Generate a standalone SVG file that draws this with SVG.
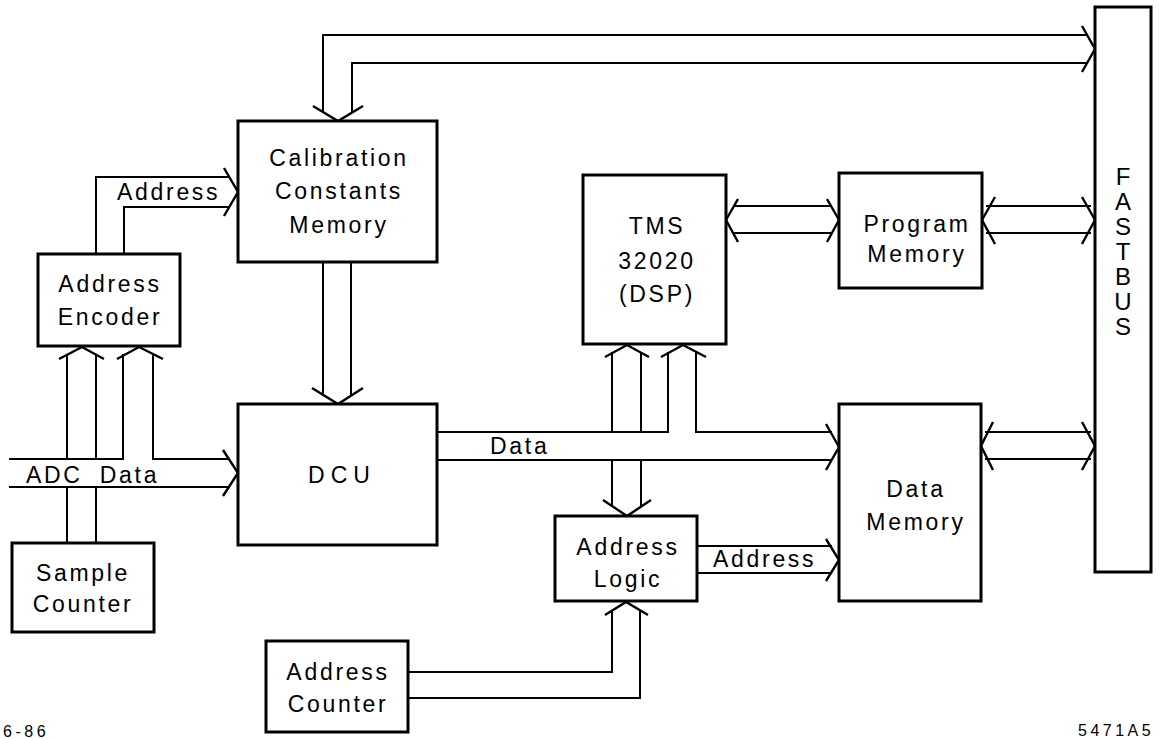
<svg xmlns="http://www.w3.org/2000/svg" width="1159" height="739" viewBox="0 0 1159 739">
<style>
.box{fill:#fff;stroke:#000;stroke-width:3}
.ln{fill:none;stroke:#000;stroke-width:2;stroke-linecap:square}
.hd{fill:none;stroke:#000;stroke-width:2.4;stroke-linejoin:miter}
text{font-family:"Liberation Sans",Arial,sans-serif;font-size:23px;fill:#000;letter-spacing:2.7px}
.c{text-anchor:middle}
.sm{font-size:16px;letter-spacing:3.5px}
.fb{font-size:24px;text-anchor:middle;letter-spacing:0}
</style>
<rect width="1159" height="739" fill="#fff"/>

<g id="connectors">
  <!-- FASTBUS <-> Calibration -->
  <path class="ln" d="M323,110 V35 H1087"/>
  <path class="ln" d="M352,112 V63 H1087"/>
  <polyline class="hd" points="1082,26 1095,49 1082,72"/>
  <polyline class="hd" points="313,106 338,121 363,106"/>
  <!-- Encoder -> Calibration (Address) -->
  <path class="ln" d="M96,254 V177 H229"/>
  <path class="ln" d="M124,254 V207 H229"/>
  <polyline class="hd" points="224,168 238,192 224,216"/>
  <!-- Calibration -> DCU -->
  <path class="ln" d="M323,262 V395"/>
  <path class="ln" d="M351,262 V395"/>
  <polyline class="hd" points="312,388 338,404 363,388"/>
  <!-- ADC Data bus -->
  <path class="ln" d="M10,459 H123 V355"/>
  <path class="ln" d="M153,355 V459 H229"/>
  <path class="ln" d="M67,459 V355"/>
  <path class="ln" d="M96,459 V355"/>
  <path class="ln" d="M10,487 H229"/>
  <polyline class="hd" points="223,450 238,473 223,496"/>
  <polyline class="hd" points="59,359 82,347 104,359"/>
  <polyline class="hd" points="117,359 139,347 163,359"/>
  <!-- Sample Counter -> ADC bus -->
  <path class="ln" d="M67,487 V543"/>
  <path class="ln" d="M96,487 V543"/>
  <!-- DCU -> Data Memory (Data) -->
  <path class="ln" d="M437,432 H668 V353"/>
  <path class="ln" d="M696,353 V432 H831"/>
  <path class="ln" d="M612,432 V353"/>
  <path class="ln" d="M641,432 V353"/>
  <path class="ln" d="M437,460 H831"/>
  <polyline class="hd" points="826,424 839,447 826,470"/>
  <polyline class="hd" points="605,357 627,345 649,357"/>
  <polyline class="hd" points="661,357 683,345 706,357"/>
  <!-- bus -> Address Logic -->
  <path class="ln" d="M612,460 V506"/>
  <path class="ln" d="M641,460 V506"/>
  <polyline class="hd" points="603,500 627,516 651,500"/>
  <!-- Address Logic -> Data Memory (Address) -->
  <path class="ln" d="M697,546 H831"/>
  <path class="ln" d="M697,573 H831"/>
  <polyline class="hd" points="826,539 839,560 826,581"/>
  <!-- Address Counter -> Address Logic -->
  <path class="ln" d="M408,672 H612 V611"/>
  <path class="ln" d="M408,698 H640 V611"/>
  <polyline class="hd" points="605,615 626,602 648,615"/>
  <!-- TMS <-> Program Memory -->
  <path class="ln" d="M734,206 H831"/>
  <path class="ln" d="M734,233 H831"/>
  <polyline class="hd" points="738,199 726,220 738,242"/>
  <polyline class="hd" points="827,199 839,220 827,242"/>
  <!-- Program Memory <-> FASTBUS -->
  <path class="ln" d="M987,206 H1090"/>
  <path class="ln" d="M987,233 H1090"/>
  <polyline class="hd" points="995,197 982,220 995,244"/>
  <polyline class="hd" points="1082,197 1095,220 1082,244"/>
  <!-- Data Memory <-> FASTBUS -->
  <path class="ln" d="M986,432 H1090"/>
  <path class="ln" d="M986,459 H1090"/>
  <polyline class="hd" points="993,422 981,446 993,470"/>
  <polyline class="hd" points="1082,422 1095,446 1082,470"/>
  <!-- bus labels -->
  <text x="117" y="200">Address</text>
  <text x="26" y="483" word-spacing="8">ADC Data</text>
  <text x="490" y="454">Data</text>
  <text x="713" y="567">Address</text>
</g>

<g id="calibration">
  <rect class="box" x="238" y="121" width="199" height="141"/>
  <text class="c" x="339" y="166">Calibration</text>
  <text class="c" x="339" y="199">Constants</text>
  <text class="c" x="339" y="233">Memory</text>
</g>
<g id="encoder">
  <rect class="box" x="38" y="254" width="142" height="92"/>
  <text class="c" x="110" y="292">Address</text>
  <text class="c" x="110" y="325">Encoder</text>
</g>
<g id="dcu">
  <rect class="box" x="238" y="404" width="199" height="141"/>
  <text class="c" x="342" y="483" style="letter-spacing:6px">DCU</text>
</g>
<g id="sample-counter">
  <rect class="box" x="12" y="543" width="142" height="89"/>
  <text class="c" x="83" y="581">Sample</text>
  <text class="c" x="83" y="612">Counter</text>
</g>
<g id="address-counter">
  <rect class="box" x="266" y="641" width="142" height="91"/>
  <text class="c" x="338" y="680">Address</text>
  <text class="c" x="338" y="712">Counter</text>
</g>
<g id="tms">
  <rect class="box" x="583" y="175" width="143" height="169"/>
  <text class="c" x="657" y="234">TMS</text>
  <text class="c" x="657" y="269">32020</text>
  <text class="c" x="657" y="302">(DSP)</text>
</g>
<g id="address-logic">
  <rect class="box" x="555" y="516" width="142" height="85"/>
  <text class="c" x="628" y="555">Address</text>
  <text class="c" x="628" y="587">Logic</text>
</g>
<g id="program-memory">
  <rect class="box" x="839" y="173" width="143" height="115"/>
  <text class="c" x="917" y="232">Program</text>
  <text class="c" x="917" y="262">Memory</text>
</g>
<g id="data-memory">
  <rect class="box" x="839" y="404" width="142" height="197"/>
  <text class="c" x="916" y="497">Data</text>
  <text class="c" x="916" y="530">Memory</text>
</g>
<g id="fastbus">
  <rect class="box" x="1095" y="7" width="56" height="565"/>
  <text class="fb"><tspan x="1123" y="185">F</tspan><tspan x="1123" y="210">A</tspan><tspan x="1123" y="235">S</tspan><tspan x="1123" y="260">T</tspan><tspan x="1123" y="285">B</tspan><tspan x="1123" y="310">U</tspan><tspan x="1123" y="335">S</tspan></text>
</g>

<text class="sm" x="3" y="737">6-86</text>
<text class="sm" x="1078" y="736">5471A5</text>
</svg>
